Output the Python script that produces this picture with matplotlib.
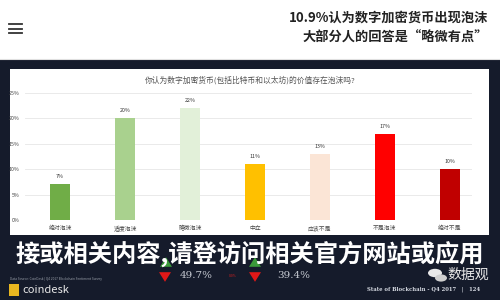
import matplotlib
matplotlib.use("Agg")
import matplotlib.pyplot as plt
from matplotlib.patches import Rectangle, Polygon, Circle
from matplotlib.lines import Line2D

plt.rcParams['font.family'] = ['Noto Sans CJK SC', 'DejaVu Sans']

categories = ["绝对泡沫", "适度泡沫", "略微泡沫", "中立", "应该不是", "不是泡沫", "绝对不是"]
values = [7, 20, 22, 11, 13, 17, 10]
bar_colors = ["#70ad47", "#a9d18e", "#e2f0d9", "#ffc000", "#fbe5d6", "#ff0000", "#c00000"]
yticks = [0, 5, 10, 15, 20, 25]
chart_title = "你认为数字加密货币(包括比特币和以太坊)的价值存在泡沫吗?"
headline1 = "10.9%认为数字加密货币出现泡沫"
headline2 = "大部分人的回答是“略微有点”"
overlay = "接或相关内容,请登访问相关官方网站或应用"

W, H = 500, 300
fig = plt.figure(figsize=(5, 3), dpi=100)
fig.patch.set_facecolor("#151b2b")

def fx(x):
    return x / W

def fy(y):
    return 1 - y / H

def rect(x0, y0, x1, y1, **kw):
    fig.patches.append(Rectangle((fx(x0), fy(y1)), fx(x1) - fx(x0), fy(y0) - fy(y1),
                                 transform=fig.transFigure, **kw))

# top white band
rect(0, 0, 500, 59, facecolor="white", edgecolor="none", zorder=0)
fig.lines.append(Line2D([0, 1], [fy(59), fy(59)], transform=fig.transFigure, color="#e0e0e0", lw=0.8))
# hamburger icon
for yy in (24, 28.5, 33):
    fig.lines.append(Line2D([fx(9), fx(22)], [fy(yy), fy(yy)], transform=fig.transFigure,
                            color="#333333", lw=1.3))
fig.text(fx(488), fy(18), headline1, ha="right", va="center", fontsize=9.5,
         fontweight="bold", color="#222222")
fig.text(fx(488), fy(38), headline2, ha="right", va="center", fontsize=9.5,
         fontweight="bold", color="#222222")

# white chart panel
rect(10, 69, 489, 235, facecolor="white", edgecolor="none", zorder=0)

ax = fig.add_axes([fx(25), fy(220), fx(472) - fx(25), fy(93) - fy(220)])
ax.set_zorder(5)
ax.set_facecolor("none")
x = list(range(len(categories)))
bars = ax.bar(x, values, width=0.31, color=bar_colors, zorder=3)
for xi, v in zip(x, values):
    ax.text(xi, v + 1.0, f"{v}%", ha="center", va="bottom", fontsize=3.8, color="#333333")
ax.set_xlim(-0.54, 6.34)
ax.set_ylim(0, 25)
ax.set_yticks(yticks)
ax.set_yticklabels([f"{t}%" for t in yticks], fontsize=3.8, color="#444444")
ax.set_xticks(x)
ax.set_xticklabels(categories, fontsize=4.2, color="#444444")
ax.tick_params(length=0, pad=4)
ax.yaxis.grid(True, color="#e6e6e6", lw=0.6, zorder=0)
for s in ax.spines.values():
    s.set_visible(False)
fig.text(fx(250), fy(80), chart_title, ha="center", va="center", fontsize=5.6, color="#555555")

# overlay text
fig.text(fx(250), fy(254), overlay, ha="center", va="center", fontsize=17.5,
         fontweight="bold", color="white", zorder=10)

# bottom elements
fig.text(fx(10), fy(279), "Data Source: CoinDesk | Q4 2017 Blockchain Sentiment Survey",
         ha="left", va="center", fontsize=2.3, color="#9aa0aa")
rect(9, 284, 19, 296, facecolor="#e8b620", edgecolor="none")
fig.text(fx(22), fy(290), "coindesk", ha="left", va="center", fontsize=8, color="#e8e8e8")

def tri(cx, cy, up, color):
    s = 6
    if up:
        pts = [(fx(cx - s), fy(cy + s * 0.8)), (fx(cx + s), fy(cy + s * 0.8)), (fx(cx), fy(cy - s * 0.8))]
    else:
        pts = [(fx(cx - s), fy(cy - s * 0.8)), (fx(cx + s), fy(cy - s * 0.8)), (fx(cx), fy(cy + s * 0.8))]
    fig.patches.append(Polygon(pts, closed=True, transform=fig.transFigure, facecolor=color, edgecolor="none"))

tri(166, 262, True, "#3a9a3a")
tri(165, 277, False, "#e01818")
tri(255, 262, True, "#3a9a3a")
tri(255, 277, False, "#e01818")
fig.text(fx(180), fy(276), "49.7%", ha="left", va="center", fontsize=7.5, family="DejaVu Serif",
         color="#c8ccd4")
fig.text(fx(277), fy(276), "39.4%", ha="left", va="center", fontsize=7.5, family="DejaVu Serif",
         color="#c8ccd4")
fig.text(fx(233), fy(276), "0.0%", ha="center", va="center", fontsize=2.5, color="#d02020")

# wechat-like icon and brand
fig.patches.append(Circle((fx(435), fy(273)), 0.014, transform=fig.transFigure, facecolor="#e8e8e8",
                          edgecolor="none"))
fig.patches.append(Circle((fx(441), fy(278)), 0.012, transform=fig.transFigure, facecolor="#cfcfcf",
                          edgecolor="none"))
fig.text(fx(447), fy(275), "数据观", ha="left", va="center", fontsize=10, color="#e8e8e8")
fig.text(fx(480), fy(289), "State of Blockchain - Q4 2017   |   124", ha="right", va="center",
         fontsize=3.8, family="DejaVu Serif", fontweight="bold", color="#d8dce4")

fig.savefig("out.png", dpi=100, facecolor=fig.get_facecolor())
